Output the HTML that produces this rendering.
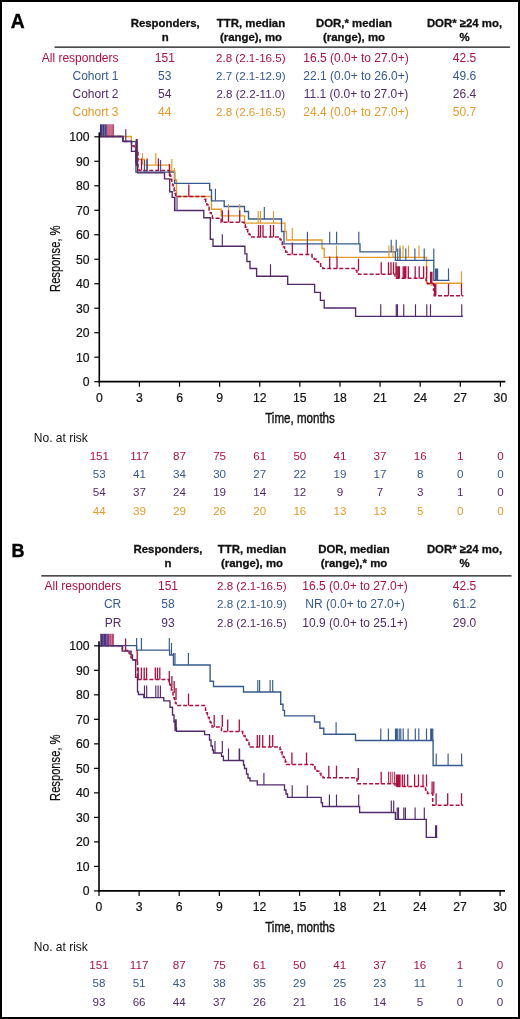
<!DOCTYPE html>
<html><head><meta charset="utf-8"><style>
html,body{margin:0;padding:0;background:#fff;width:520px;height:1019px;overflow:hidden}
svg{display:block;will-change:transform}
</style></head><body>
<svg width="520" height="1019" viewBox="0 0 520 1019" font-family="Liberation Sans, sans-serif">
<rect width="520" height="1019" fill="#fff"/>
<defs><linearGradient id="gA" x1="0" x2="1"><stop offset="0" stop-color="#3e2d78"/><stop offset="0.45" stop-color="#44448a"/><stop offset="0.5" stop-color="#c8587a"/><stop offset="0.88" stop-color="#c8587a"/><stop offset="1" stop-color="#b01040"/></linearGradient></defs>
<rect x="100" y="124.3" width="13.8" height="12.2" fill="url(#gA)"/>
<path d="M102.4,124.6V136M104.6,124.6V136M108.2,124.6V136M110.2,124.6V136M112,124.6V136" fill="none" stroke="rgba(255,255,255,0.35)" stroke-width="0.7"/>
<path d="M99.3,136.5H131.25V141.3H137.5V159.4H144.6V165.1H169.7V171H174.4V180H176.5V196.5H211.5V209.2H221.2V215.9H244.6V223.1H285V231.5H286.5V240H322V248.5H324.2V257.4H426.5V283.2H462.3" fill="none" stroke="#E39A2A" stroke-width="1.35" stroke-linejoin="miter" stroke-linecap="butt"/>
<path d="M99.3,136.5H122.9V141.5H131.5V143.75H132.88V146.0H134.25V148.25H135.62V150.5H137.0H138V168.4H139V170.6H169.4V173.48H170.19V176.36H170.98V179.23H171.77V182.11H172.56V184.99H173.34V187.87H174.13V190.74H174.92V193.62H175.71V196.5H176.5H204.6V199.21H205.71V201.93H206.82V204.64H207.94V207.35H209.05V210.06H210.16V212.77H211.28V215.49H212.39V218.2H213.5H221.2V222.3H244V224.73H245.25V227.17H246.5V229.6H247.75V232.03H249.0V234.47H250.25V236.9H251.5H280V239.43H281.14V241.96H282.29V244.49H283.43V247.01H284.57V249.54H285.71V252.07H286.86V254.6H288.0H312V256.92H314.17V259.23H316.33V261.55H318.5V263.87H320.67V266.18H322.83V268.5H325.0H355.4V270.4H356.93V272.3H358.47V274.2H360.0H395V278.2H426V280.5H427.5V283.8H433.5V290H434.2V295.8H463.4" fill="none" stroke="#AE1040" stroke-width="1.5" stroke-dasharray="4 2" stroke-linejoin="miter" stroke-linecap="butt"/>
<path d="M99.3,136.5H123V141.6H135.9V172.1H174.7V183.3H209.7V190H211.5V200.8H224.2V206.5H244.5V211.5H248.5V219H281.5V231.5H284V243.8H360V251.8H395.4V260.4H433.8V280.4H449.5" fill="none" stroke="#365A8E" stroke-width="1.35" stroke-linejoin="miter" stroke-linecap="butt"/>
<path d="M99.3,136.5H122.9V141.25H131.5V151.35H135.9V162.3H137.5V172.9H164.5V178.9H169.7V191.7H172.2V197.3H174.6V210.5H203.8V217.7H210.3V239.2H213V246.2H244.9V253.8H246.9V261.5H250V268.5H256.6V276.2H287.7V284.4H314.6V292.3H320.4V300.4H324.2V308H355.6V316.3H463" fill="none" stroke="#54296C" stroke-width="1.35" stroke-linejoin="miter" stroke-linecap="butt"/>
<path d="M136.2,139V166M137.2,139V166" fill="none" stroke="#54296C" stroke-width="1.1"/>
<path d="M176,196V210.5M177.2,196V210.5" fill="none" stroke="#7a5a95" stroke-width="1.0"/>
<path d="M142.5,153.1V165.1M155.8,153.1V165.1M171.8,159V171M174.4,168V180M228.5,203.9V215.9M239.7,203.9V215.9M258.2,211.1V223.1M260.5,211.1V223.1M273.5,211.1V223.1M292.3,228V240M336.5,245.39999999999998V257.4M388.9,245.39999999999998V257.4M393,245.39999999999998V257.4M400,245.39999999999998V257.4M403,245.39999999999998V257.4M408.5,245.39999999999998V257.4M419,245.39999999999998V257.4M431.2,274.2V286.2M461.5,271.2V283.2" fill="none" stroke="#E39A2A" stroke-width="1.15"/>
<path d="M141.5,158.6V170.6M147.1,158.6V170.6M158.4,158.6V170.6M169.4,164V176M188.8,184.5V196.5M222.3,210.3V222.3M228.5,210.3V222.3M239.7,210.3V222.3M258.5,224.9V236.9M260.5,224.9V236.9M263,224.9V236.9M270.5,224.9V236.9M273.5,224.9V236.9M292.3,242.6V254.6M307.4,242.6V254.6M329.7,256.5V268.5M337,256.5V268.5M358.5,258.8V270.8M381.2,262.2V274.2M388.5,262.2V274.2M391,262.2V274.2M393.5,262.2V274.2M396,262.2V274.2M396.8,266.2V278.2M398.2,266.2V278.2M399.4,266.2V278.2M403.2,266.2V278.2M404.6,266.2V278.2M405.8,266.2V278.2M408.3,266.2V278.2M415.2,266.2V278.2M419.2,266.2V278.2M423.6,266.2V278.2M426.7,266.2V278.2M430.6,271.8V283.8M431.9,271.8V283.8M434.6,283.8V295.8M435.8,283.8V295.8M448.5,283.8V295.8M461.5,283.8V295.8" fill="none" stroke="#AE1040" stroke-width="1.3"/>
<path d="M144.4,160.1V172.1M147.1,160.1V172.1M160.6,160.1V172.1M215.4,188.8V200.8M264.3,207V219M307.4,231.8V243.8M329.7,231.8V243.8M336.6,231.8V243.8M358.8,231.8V243.8M391.2,239.8V251.8M396.2,239.8V251.8M397.7,248.39999999999998V260.4M400,248.39999999999998V260.4M405.8,248.39999999999998V260.4M414.9,248.39999999999998V260.4M424.2,248.39999999999998V260.4M433.8,248.39999999999998V260.4M435.6,268.4V280.4M436.6,268.4V280.4M437.6,268.4V280.4M448.5,268.4V280.4" fill="none" stroke="#365A8E" stroke-width="1.15"/>
<path d="M125.8,129.25V141.25M222.3,234.2V246.2M270.5,264.2V276.2M380.75,304.3V316.3M396.25,304.3V316.3M397.5,304.3V316.3M403.75,304.3V316.3M415.5,304.3V316.3M426.75,304.3V316.3M430.5,304.3V316.3M461.75,304.3V316.3" fill="none" stroke="#54296C" stroke-width="1.15"/>
<defs><linearGradient id="gB" x1="0" x2="1"><stop offset="0" stop-color="#3e2d78"/><stop offset="0.35" stop-color="#4a3585"/><stop offset="0.6" stop-color="#8a3a76"/><stop offset="0.85" stop-color="#c8587a"/><stop offset="1" stop-color="#b01040"/></linearGradient></defs>
<rect x="100.3" y="633.8" width="13.4" height="12" fill="url(#gB)"/>
<path d="M103.2,634V645.5M106.8,634V645.5M109.6,634V645.5M111.6,634V645.5" fill="none" stroke="rgba(255,255,255,0.35)" stroke-width="0.7"/>
<path d="M99,645.8H122.5V650.5H129V652.88H130.0V655.25H131.0V657.62H132.0V660.0H133.0H137.5V679.4H169V682.02H169.8V684.64H170.6V687.26H171.4V689.88H172.2V692.5H173.0V695.12H173.8V697.74H174.6V700.36H175.4V702.98H176.2V705.6H177.0H204.6V707.98H205.53V710.36H206.47V712.73H207.4V715.11H208.33V717.49H209.27V719.87H210.2V722.24H211.13V724.62H212.07V727.0H213.0H221.5V731.5H242.7V733.7H243.96V735.9H245.21V738.1H246.47V740.3H247.73V742.5H248.99V744.7H250.24V746.9H251.5H280V749.43H281.07V751.96H282.14V754.49H283.21V757.01H284.29V759.54H285.36V762.07H286.43V764.6H287.5H313V766.8H315.0V769.0H317.0V771.2H319.0V773.4H321.0V775.6H323.0V777.8H325.0H357V783.7H395V786.5H425.5V790H427.5V793.6H432.7V805.2H463.3" fill="none" stroke="#AE1040" stroke-width="1.5" stroke-dasharray="4 2" stroke-linejoin="miter" stroke-linecap="butt"/>
<path d="M99,645.6H136.6V650.1H169.6V655H173.5V665H210.1V681.2H213.5V686.5H243.5V692H280.7V704.2H283V710.3H284.5V715.8H314.5V722H319.9V728.2H323.8V734.2H355.5V740.5H433.1V765.5H463.1" fill="none" stroke="#365A8E" stroke-width="1.35" stroke-linejoin="miter" stroke-linecap="butt"/>
<path d="M99,645.8H122.2V651.1H131.1V655H132.5V659.9H135.6V677.4H137.5V691.8H138.5V694.5H143.8V697.6H163.8V700.8H170V707.2H172.5V715H174V722H175.5V728H176.5V731.2H204.6V734.6H209.5V740H211V746H212.5V750H213.5V753H221.5V756.2H223.4V760.5H243.5V765H244.5V768.5H246.5V774H248V778H250V780.8H257.3V784.9H284.5V790H286V794H287.5V797.3H321.2V802.7H322.5V806.5H359.6V812.5H395.4V819.4H426.3V837.3H437.3" fill="none" stroke="#54296C" stroke-width="1.35" stroke-linejoin="miter" stroke-linecap="butt"/>
<path d="M136.6,638.1V650.1M141.4,638.1V650.1M169.3,638.1V650.1M171.5,643V655M173.5,653V665M175,653V665M188.4,653V665M257.8,680V692M259.6,680V692M270.1,680V692M272.7,680V692M336.1,722.2V734.2M380.8,728.5V740.5M388.4,728.5V740.5M395.5,728.5V740.5M396.5,728.5V740.5M397.3,728.5V740.5M399.2,728.5V740.5M400.8,728.5V740.5M403.2,728.5V740.5M408.1,728.5V740.5M415.3,728.5V740.5M418.8,728.5V740.5M426.5,728.5V740.5M430.7,728.5V740.5M431.6,728.5V740.5M432.8,728.5V740.5M436.2,753.5V765.5M448.1,753.5V765.5M461.6,753.5V765.5" fill="none" stroke="#365A8E" stroke-width="1.15"/>
<path d="M125.6,638.5V650.5M137.2,650V662M138.2,667.4V679.4M141.4,667.4V679.4M144.2,667.4V679.4M146.6,667.4V679.4M155.3,667.4V679.4M157.5,667.4V679.4M159.8,667.4V679.4M169.3,671V683M171.9,676V688M174.2,681V693M176,688V700M188.5,693.6V705.6M214.2,715V727M222.3,715V727M227.7,719.5V731.5M239.3,719.5V731.5M257.3,734.9V746.9M259.6,734.9V746.9M262.7,734.9V746.9M269.6,734.9V746.9M272.7,734.9V746.9M291.9,752.6V764.6M306.5,752.6V764.6M328.8,765.8V777.8M336.5,765.8V777.8M358.3,768V780M381.2,771.7V783.7M396.4,774.5V786.5M397.6,774.5V786.5M398.8,774.5V786.5M400,774.5V786.5M402.3,774.5V786.5M404.3,774.5V786.5M407.7,774.5V786.5M414.6,774.5V786.5M418.5,774.5V786.5M423,774.5V786.5M426.5,774.5V786.5M432.1,781.6V793.6M433.8,781.6V793.6M436.1,793.2V805.2M447.7,793.2V805.2M461.5,793.2V805.2" fill="none" stroke="#AE1040" stroke-width="1.3"/>
<path d="M388.5,771.7V783.7M390.3,771.7V783.7M392.2,771.7V783.7M394.4,771.7V783.7" fill="none" stroke="#AE1040" stroke-width="0.9"/>
<path d="M144.5,685.6V697.6M146.7,685.6V697.6M155.8,685.6V697.6M158.1,685.6V697.6M160.4,685.6V697.6M175,719.2V731.2M176.2,719.2V731.2M215,741V753M222.3,741V753M228.5,748.5V760.5M239.2,748.5V760.5M239.6,748.5V760.5M263.9,772.9V784.9M292.2,785.3V797.3M307.3,785.3V797.3M329.4,794.5V806.5M336.5,794.5V806.5M358.7,794.5V806.5M391.3,800.5V812.5M393.7,800.5V812.5M397.2,807.4V819.4M398.5,807.4V819.4M403.8,807.4V819.4M405.4,807.4V819.4M415.1,807.4V819.4M424.3,807.4V819.4M435.6,825.3V837.3M436.6,825.3V837.3" fill="none" stroke="#54296C" stroke-width="1.15"/>
<rect x="1" y="1" width="518" height="1017" fill="none" stroke="#000" stroke-width="2"/><text x="10.8" y="27.5" font-size="19.3" text-anchor="start" fill="#000" font-weight="bold" stroke="#000" stroke-width="0.4">A</text><text x="165.2" y="27.3" font-size="11.4" text-anchor="middle" fill="#111" font-weight="bold" stroke="#111" stroke-width="0.3">Responders,</text><text x="165.2" y="41.3" font-size="11.4" text-anchor="middle" fill="#111" font-weight="bold" stroke="#111" stroke-width="0.3">n</text><text x="251" y="27.3" font-size="11.4" text-anchor="middle" fill="#111" font-weight="bold" stroke="#111" stroke-width="0.3">TTR, median</text><text x="251" y="41.3" font-size="11.4" text-anchor="middle" fill="#111" font-weight="bold" stroke="#111" stroke-width="0.3">(range), mo</text><text x="354" y="27.3" font-size="11.4" text-anchor="middle" fill="#111" font-weight="bold" stroke="#111" stroke-width="0.3">DOR,* median</text><text x="354" y="41.3" font-size="11.4" text-anchor="middle" fill="#111" font-weight="bold" stroke="#111" stroke-width="0.3">(range), mo</text><text x="464.5" y="27.3" font-size="11.4" text-anchor="middle" fill="#111" font-weight="bold" stroke="#111" stroke-width="0.3">DOR* ≥24 mo,</text><text x="464.5" y="41.3" font-size="11.4" text-anchor="middle" fill="#111" font-weight="bold" stroke="#111" stroke-width="0.3">%</text><line x1="54.5" y1="47.2" x2="510" y2="47.2" stroke="#111" stroke-width="1.3"/><text x="118.5" y="61.8" font-size="12" text-anchor="end" fill="#AE1040" font-weight="normal" >All responders</text><text x="164.8" y="61.8" font-size="12" text-anchor="middle" fill="#AE1040" font-weight="normal" >151</text><text x="250.8" y="61.8" font-size="11.6" text-anchor="middle" fill="#AE1040" font-weight="normal" >2.8 (2.1-16.5)</text><text x="356" y="61.8" font-size="12" text-anchor="middle" fill="#AE1040" font-weight="normal" >16.5 (0.0+ to 27.0+)</text><text x="464.5" y="61.8" font-size="12" text-anchor="middle" fill="#AE1040" font-weight="normal" >42.5</text><text x="118.5" y="80.0" font-size="12" text-anchor="end" fill="#365A8E" font-weight="normal" >Cohort 1</text><text x="164.8" y="80.0" font-size="12" text-anchor="middle" fill="#365A8E" font-weight="normal" >53</text><text x="250.8" y="80.0" font-size="11.6" text-anchor="middle" fill="#365A8E" font-weight="normal" >2.7 (2.1-12.9)</text><text x="356" y="80.0" font-size="12" text-anchor="middle" fill="#365A8E" font-weight="normal" >22.1 (0.0+ to 26.0+)</text><text x="464.5" y="80.0" font-size="12" text-anchor="middle" fill="#365A8E" font-weight="normal" >49.6</text><text x="118.5" y="98.19999999999999" font-size="12" text-anchor="end" fill="#54296C" font-weight="normal" >Cohort 2</text><text x="164.8" y="98.19999999999999" font-size="12" text-anchor="middle" fill="#54296C" font-weight="normal" >54</text><text x="250.8" y="98.19999999999999" font-size="11.6" text-anchor="middle" fill="#54296C" font-weight="normal" >2.8 (2.2-11.0)</text><text x="356" y="98.19999999999999" font-size="12" text-anchor="middle" fill="#54296C" font-weight="normal" >11.1 (0.0+ to 27.0+)</text><text x="464.5" y="98.19999999999999" font-size="12" text-anchor="middle" fill="#54296C" font-weight="normal" >26.4</text><text x="118.5" y="116.39999999999999" font-size="12" text-anchor="end" fill="#E39A2A" font-weight="normal" >Cohort 3</text><text x="164.8" y="116.39999999999999" font-size="12" text-anchor="middle" fill="#E39A2A" font-weight="normal" >44</text><text x="250.8" y="116.39999999999999" font-size="11.6" text-anchor="middle" fill="#E39A2A" font-weight="normal" >2.8 (2.6-16.5)</text><text x="356" y="116.39999999999999" font-size="12" text-anchor="middle" fill="#E39A2A" font-weight="normal" >24.4 (0.0+ to 27.0+)</text><text x="464.5" y="116.39999999999999" font-size="12" text-anchor="middle" fill="#E39A2A" font-weight="normal" >50.7</text><line x1="99.3" y1="382.5" x2="99.3" y2="132.3" stroke="#000" stroke-width="1.6"/><line x1="98.5" y1="381.7" x2="505.3" y2="381.7" stroke="#000" stroke-width="1.7"/><line x1="94.3" y1="381.7" x2="99.3" y2="381.7" stroke="#000" stroke-width="1.2"/><text x="89.6" y="386.09999999999997" font-size="12.2" text-anchor="end" fill="#111" font-weight="normal" stroke="#111" stroke-width="0.2">0</text><line x1="94.3" y1="357.21" x2="99.3" y2="357.21" stroke="#000" stroke-width="1.2"/><text x="89.6" y="361.60999999999996" font-size="12.2" text-anchor="end" fill="#111" font-weight="normal" stroke="#111" stroke-width="0.2">10</text><line x1="94.3" y1="332.71999999999997" x2="99.3" y2="332.71999999999997" stroke="#000" stroke-width="1.2"/><text x="89.6" y="337.11999999999995" font-size="12.2" text-anchor="end" fill="#111" font-weight="normal" stroke="#111" stroke-width="0.2">20</text><line x1="94.3" y1="308.23" x2="99.3" y2="308.23" stroke="#000" stroke-width="1.2"/><text x="89.6" y="312.63" font-size="12.2" text-anchor="end" fill="#111" font-weight="normal" stroke="#111" stroke-width="0.2">30</text><line x1="94.3" y1="283.74" x2="99.3" y2="283.74" stroke="#000" stroke-width="1.2"/><text x="89.6" y="288.14" font-size="12.2" text-anchor="end" fill="#111" font-weight="normal" stroke="#111" stroke-width="0.2">40</text><line x1="94.3" y1="259.25" x2="99.3" y2="259.25" stroke="#000" stroke-width="1.2"/><text x="89.6" y="263.65" font-size="12.2" text-anchor="end" fill="#111" font-weight="normal" stroke="#111" stroke-width="0.2">50</text><line x1="94.3" y1="234.76" x2="99.3" y2="234.76" stroke="#000" stroke-width="1.2"/><text x="89.6" y="239.16" font-size="12.2" text-anchor="end" fill="#111" font-weight="normal" stroke="#111" stroke-width="0.2">60</text><line x1="94.3" y1="210.27" x2="99.3" y2="210.27" stroke="#000" stroke-width="1.2"/><text x="89.6" y="214.67000000000002" font-size="12.2" text-anchor="end" fill="#111" font-weight="normal" stroke="#111" stroke-width="0.2">70</text><line x1="94.3" y1="185.78" x2="99.3" y2="185.78" stroke="#000" stroke-width="1.2"/><text x="89.6" y="190.18" font-size="12.2" text-anchor="end" fill="#111" font-weight="normal" stroke="#111" stroke-width="0.2">80</text><line x1="94.3" y1="161.29" x2="99.3" y2="161.29" stroke="#000" stroke-width="1.2"/><text x="89.6" y="165.69" font-size="12.2" text-anchor="end" fill="#111" font-weight="normal" stroke="#111" stroke-width="0.2">90</text><line x1="94.3" y1="136.8" x2="99.3" y2="136.8" stroke="#000" stroke-width="1.2"/><text x="89.6" y="141.20000000000002" font-size="12.2" text-anchor="end" fill="#111" font-weight="normal" stroke="#111" stroke-width="0.2">100</text><line x1="99.3" y1="381.7" x2="99.3" y2="386.7" stroke="#000" stroke-width="1.2"/><text x="99.3" y="401.7" font-size="12.2" text-anchor="middle" fill="#111" font-weight="normal" stroke="#111" stroke-width="0.2">0</text><line x1="139.41" y1="381.7" x2="139.41" y2="386.7" stroke="#000" stroke-width="1.2"/><text x="139.41" y="401.7" font-size="12.2" text-anchor="middle" fill="#111" font-weight="normal" stroke="#111" stroke-width="0.2">3</text><line x1="179.51999999999998" y1="381.7" x2="179.51999999999998" y2="386.7" stroke="#000" stroke-width="1.2"/><text x="179.51999999999998" y="401.7" font-size="12.2" text-anchor="middle" fill="#111" font-weight="normal" stroke="#111" stroke-width="0.2">6</text><line x1="219.63" y1="381.7" x2="219.63" y2="386.7" stroke="#000" stroke-width="1.2"/><text x="219.63" y="401.7" font-size="12.2" text-anchor="middle" fill="#111" font-weight="normal" stroke="#111" stroke-width="0.2">9</text><line x1="259.74" y1="381.7" x2="259.74" y2="386.7" stroke="#000" stroke-width="1.2"/><text x="259.74" y="401.7" font-size="12.2" text-anchor="middle" fill="#111" font-weight="normal" stroke="#111" stroke-width="0.2">12</text><line x1="299.84999999999997" y1="381.7" x2="299.84999999999997" y2="386.7" stroke="#000" stroke-width="1.2"/><text x="299.84999999999997" y="401.7" font-size="12.2" text-anchor="middle" fill="#111" font-weight="normal" stroke="#111" stroke-width="0.2">15</text><line x1="339.96" y1="381.7" x2="339.96" y2="386.7" stroke="#000" stroke-width="1.2"/><text x="339.96" y="401.7" font-size="12.2" text-anchor="middle" fill="#111" font-weight="normal" stroke="#111" stroke-width="0.2">18</text><line x1="380.07" y1="381.7" x2="380.07" y2="386.7" stroke="#000" stroke-width="1.2"/><text x="380.07" y="401.7" font-size="12.2" text-anchor="middle" fill="#111" font-weight="normal" stroke="#111" stroke-width="0.2">21</text><line x1="420.18" y1="381.7" x2="420.18" y2="386.7" stroke="#000" stroke-width="1.2"/><text x="420.18" y="401.7" font-size="12.2" text-anchor="middle" fill="#111" font-weight="normal" stroke="#111" stroke-width="0.2">24</text><line x1="460.28999999999996" y1="381.7" x2="460.28999999999996" y2="386.7" stroke="#000" stroke-width="1.2"/><text x="460.28999999999996" y="401.7" font-size="12.2" text-anchor="middle" fill="#111" font-weight="normal" stroke="#111" stroke-width="0.2">27</text><line x1="500.4" y1="381.7" x2="500.4" y2="386.7" stroke="#000" stroke-width="1.2"/><text x="500.4" y="401.7" font-size="12.2" text-anchor="middle" fill="#111" font-weight="normal" stroke="#111" stroke-width="0.2">30</text><text x="0" y="0" font-size="14.3" text-anchor="middle" fill="#111" font-weight="normal" stroke="#111" stroke-width="0.4" transform="translate(300 422.59999999999997) scale(0.81 1)">Time, months</text><text x="0" y="0" font-size="15" text-anchor="middle" fill="#111" font-weight="normal" stroke="#111" stroke-width="0.25" transform="translate(60.4 258.7) rotate(-90) scale(0.745 1)">Response, %</text><text x="33.8" y="441.6" font-size="12" text-anchor="start" fill="#111" font-weight="normal" >No. at risk</text><text x="99.3" y="459.9" font-size="11.6" text-anchor="middle" fill="#AE1040" font-weight="normal" >151</text><text x="139.41" y="459.9" font-size="11.6" text-anchor="middle" fill="#AE1040" font-weight="normal" >117</text><text x="179.51999999999998" y="459.9" font-size="11.6" text-anchor="middle" fill="#AE1040" font-weight="normal" >87</text><text x="219.63" y="459.9" font-size="11.6" text-anchor="middle" fill="#AE1040" font-weight="normal" >75</text><text x="259.74" y="459.9" font-size="11.6" text-anchor="middle" fill="#AE1040" font-weight="normal" >61</text><text x="299.84999999999997" y="459.9" font-size="11.6" text-anchor="middle" fill="#AE1040" font-weight="normal" >50</text><text x="339.96" y="459.9" font-size="11.6" text-anchor="middle" fill="#AE1040" font-weight="normal" >41</text><text x="380.07" y="459.9" font-size="11.6" text-anchor="middle" fill="#AE1040" font-weight="normal" >37</text><text x="420.18" y="459.9" font-size="11.6" text-anchor="middle" fill="#AE1040" font-weight="normal" >16</text><text x="460.28999999999996" y="459.9" font-size="11.6" text-anchor="middle" fill="#AE1040" font-weight="normal" >1</text><text x="500.4" y="459.9" font-size="11.6" text-anchor="middle" fill="#AE1040" font-weight="normal" >0</text><text x="99.3" y="478.09999999999997" font-size="11.6" text-anchor="middle" fill="#365A8E" font-weight="normal" >53</text><text x="139.41" y="478.09999999999997" font-size="11.6" text-anchor="middle" fill="#365A8E" font-weight="normal" >41</text><text x="179.51999999999998" y="478.09999999999997" font-size="11.6" text-anchor="middle" fill="#365A8E" font-weight="normal" >34</text><text x="219.63" y="478.09999999999997" font-size="11.6" text-anchor="middle" fill="#365A8E" font-weight="normal" >30</text><text x="259.74" y="478.09999999999997" font-size="11.6" text-anchor="middle" fill="#365A8E" font-weight="normal" >27</text><text x="299.84999999999997" y="478.09999999999997" font-size="11.6" text-anchor="middle" fill="#365A8E" font-weight="normal" >22</text><text x="339.96" y="478.09999999999997" font-size="11.6" text-anchor="middle" fill="#365A8E" font-weight="normal" >19</text><text x="380.07" y="478.09999999999997" font-size="11.6" text-anchor="middle" fill="#365A8E" font-weight="normal" >17</text><text x="420.18" y="478.09999999999997" font-size="11.6" text-anchor="middle" fill="#365A8E" font-weight="normal" >8</text><text x="460.28999999999996" y="478.09999999999997" font-size="11.6" text-anchor="middle" fill="#365A8E" font-weight="normal" >0</text><text x="500.4" y="478.09999999999997" font-size="11.6" text-anchor="middle" fill="#365A8E" font-weight="normal" >0</text><text x="99.3" y="496.29999999999995" font-size="11.6" text-anchor="middle" fill="#54296C" font-weight="normal" >54</text><text x="139.41" y="496.29999999999995" font-size="11.6" text-anchor="middle" fill="#54296C" font-weight="normal" >37</text><text x="179.51999999999998" y="496.29999999999995" font-size="11.6" text-anchor="middle" fill="#54296C" font-weight="normal" >24</text><text x="219.63" y="496.29999999999995" font-size="11.6" text-anchor="middle" fill="#54296C" font-weight="normal" >19</text><text x="259.74" y="496.29999999999995" font-size="11.6" text-anchor="middle" fill="#54296C" font-weight="normal" >14</text><text x="299.84999999999997" y="496.29999999999995" font-size="11.6" text-anchor="middle" fill="#54296C" font-weight="normal" >12</text><text x="339.96" y="496.29999999999995" font-size="11.6" text-anchor="middle" fill="#54296C" font-weight="normal" >9</text><text x="380.07" y="496.29999999999995" font-size="11.6" text-anchor="middle" fill="#54296C" font-weight="normal" >7</text><text x="420.18" y="496.29999999999995" font-size="11.6" text-anchor="middle" fill="#54296C" font-weight="normal" >3</text><text x="460.28999999999996" y="496.29999999999995" font-size="11.6" text-anchor="middle" fill="#54296C" font-weight="normal" >1</text><text x="500.4" y="496.29999999999995" font-size="11.6" text-anchor="middle" fill="#54296C" font-weight="normal" >0</text><text x="99.3" y="514.5" font-size="11.6" text-anchor="middle" fill="#E39A2A" font-weight="normal" >44</text><text x="139.41" y="514.5" font-size="11.6" text-anchor="middle" fill="#E39A2A" font-weight="normal" >39</text><text x="179.51999999999998" y="514.5" font-size="11.6" text-anchor="middle" fill="#E39A2A" font-weight="normal" >29</text><text x="219.63" y="514.5" font-size="11.6" text-anchor="middle" fill="#E39A2A" font-weight="normal" >26</text><text x="259.74" y="514.5" font-size="11.6" text-anchor="middle" fill="#E39A2A" font-weight="normal" >20</text><text x="299.84999999999997" y="514.5" font-size="11.6" text-anchor="middle" fill="#E39A2A" font-weight="normal" >16</text><text x="339.96" y="514.5" font-size="11.6" text-anchor="middle" fill="#E39A2A" font-weight="normal" >13</text><text x="380.07" y="514.5" font-size="11.6" text-anchor="middle" fill="#E39A2A" font-weight="normal" >13</text><text x="420.18" y="514.5" font-size="11.6" text-anchor="middle" fill="#E39A2A" font-weight="normal" >5</text><text x="460.28999999999996" y="514.5" font-size="11.6" text-anchor="middle" fill="#E39A2A" font-weight="normal" >0</text><text x="500.4" y="514.5" font-size="11.6" text-anchor="middle" fill="#E39A2A" font-weight="normal" >0</text><text x="11.6" y="557.3" font-size="18" text-anchor="start" fill="#000" font-weight="bold" stroke="#000" stroke-width="0.4">B</text><text x="168" y="553" font-size="11.4" text-anchor="middle" fill="#111" font-weight="bold" stroke="#111" stroke-width="0.3">Responders,</text><text x="168" y="567" font-size="11.4" text-anchor="middle" fill="#111" font-weight="bold" stroke="#111" stroke-width="0.3">n</text><text x="252" y="553" font-size="11.4" text-anchor="middle" fill="#111" font-weight="bold" stroke="#111" stroke-width="0.3">TTR, median</text><text x="252" y="567" font-size="11.4" text-anchor="middle" fill="#111" font-weight="bold" stroke="#111" stroke-width="0.3">(range), mo</text><text x="354" y="553" font-size="11.4" text-anchor="middle" fill="#111" font-weight="bold" stroke="#111" stroke-width="0.3">DOR, median</text><text x="354" y="567" font-size="11.4" text-anchor="middle" fill="#111" font-weight="bold" stroke="#111" stroke-width="0.3">(range),* mo</text><text x="464.5" y="553" font-size="11.4" text-anchor="middle" fill="#111" font-weight="bold" stroke="#111" stroke-width="0.3">DOR* ≥24 mo,</text><text x="464.5" y="567" font-size="11.4" text-anchor="middle" fill="#111" font-weight="bold" stroke="#111" stroke-width="0.3">%</text><line x1="41.3" y1="575.9" x2="511.5" y2="575.9" stroke="#111" stroke-width="1.3"/><text x="121.3" y="589.5" font-size="12" text-anchor="end" fill="#AE1040" font-weight="normal" >All responders</text><text x="168" y="589.5" font-size="12" text-anchor="middle" fill="#AE1040" font-weight="normal" >151</text><text x="251.8" y="589.5" font-size="11.6" text-anchor="middle" fill="#AE1040" font-weight="normal" >2.8 (2.1-16.5)</text><text x="355" y="589.5" font-size="12" text-anchor="middle" fill="#AE1040" font-weight="normal" >16.5 (0.0+ to 27.0+)</text><text x="464.5" y="589.5" font-size="12" text-anchor="middle" fill="#AE1040" font-weight="normal" >42.5</text><text x="121.3" y="608.1" font-size="12" text-anchor="end" fill="#365A8E" font-weight="normal" >CR</text><text x="168" y="608.1" font-size="12" text-anchor="middle" fill="#365A8E" font-weight="normal" >58</text><text x="251.8" y="608.1" font-size="11.6" text-anchor="middle" fill="#365A8E" font-weight="normal" >2.8 (2.1-10.9)</text><text x="355" y="608.1" font-size="12" text-anchor="middle" fill="#365A8E" font-weight="normal" >NR (0.0+ to 27.0+)</text><text x="464.5" y="608.1" font-size="12" text-anchor="middle" fill="#365A8E" font-weight="normal" >61.2</text><text x="121.3" y="626.7" font-size="12" text-anchor="end" fill="#54296C" font-weight="normal" >PR</text><text x="168" y="626.7" font-size="12" text-anchor="middle" fill="#54296C" font-weight="normal" >93</text><text x="251.8" y="626.7" font-size="11.6" text-anchor="middle" fill="#54296C" font-weight="normal" >2.8 (2.1-16.5)</text><text x="355" y="626.7" font-size="12" text-anchor="middle" fill="#54296C" font-weight="normal" >10.9 (0.0+ to 25.1+)</text><text x="464.5" y="626.7" font-size="12" text-anchor="middle" fill="#54296C" font-weight="normal" >29.0</text><line x1="99.0" y1="891.6999999999999" x2="99.0" y2="641.3" stroke="#000" stroke-width="1.6"/><line x1="98.2" y1="890.9" x2="505.0" y2="890.9" stroke="#000" stroke-width="1.7"/><line x1="94.0" y1="890.9" x2="99.0" y2="890.9" stroke="#000" stroke-width="1.2"/><text x="89.6" y="895.3" font-size="12.2" text-anchor="end" fill="#111" font-weight="normal" stroke="#111" stroke-width="0.2">0</text><line x1="94.0" y1="866.39" x2="99.0" y2="866.39" stroke="#000" stroke-width="1.2"/><text x="89.6" y="870.79" font-size="12.2" text-anchor="end" fill="#111" font-weight="normal" stroke="#111" stroke-width="0.2">10</text><line x1="94.0" y1="841.88" x2="99.0" y2="841.88" stroke="#000" stroke-width="1.2"/><text x="89.6" y="846.28" font-size="12.2" text-anchor="end" fill="#111" font-weight="normal" stroke="#111" stroke-width="0.2">20</text><line x1="94.0" y1="817.37" x2="99.0" y2="817.37" stroke="#000" stroke-width="1.2"/><text x="89.6" y="821.77" font-size="12.2" text-anchor="end" fill="#111" font-weight="normal" stroke="#111" stroke-width="0.2">30</text><line x1="94.0" y1="792.86" x2="99.0" y2="792.86" stroke="#000" stroke-width="1.2"/><text x="89.6" y="797.26" font-size="12.2" text-anchor="end" fill="#111" font-weight="normal" stroke="#111" stroke-width="0.2">40</text><line x1="94.0" y1="768.35" x2="99.0" y2="768.35" stroke="#000" stroke-width="1.2"/><text x="89.6" y="772.75" font-size="12.2" text-anchor="end" fill="#111" font-weight="normal" stroke="#111" stroke-width="0.2">50</text><line x1="94.0" y1="743.8399999999999" x2="99.0" y2="743.8399999999999" stroke="#000" stroke-width="1.2"/><text x="89.6" y="748.2399999999999" font-size="12.2" text-anchor="end" fill="#111" font-weight="normal" stroke="#111" stroke-width="0.2">60</text><line x1="94.0" y1="719.3299999999999" x2="99.0" y2="719.3299999999999" stroke="#000" stroke-width="1.2"/><text x="89.6" y="723.7299999999999" font-size="12.2" text-anchor="end" fill="#111" font-weight="normal" stroke="#111" stroke-width="0.2">70</text><line x1="94.0" y1="694.8199999999999" x2="99.0" y2="694.8199999999999" stroke="#000" stroke-width="1.2"/><text x="89.6" y="699.2199999999999" font-size="12.2" text-anchor="end" fill="#111" font-weight="normal" stroke="#111" stroke-width="0.2">80</text><line x1="94.0" y1="670.31" x2="99.0" y2="670.31" stroke="#000" stroke-width="1.2"/><text x="89.6" y="674.7099999999999" font-size="12.2" text-anchor="end" fill="#111" font-weight="normal" stroke="#111" stroke-width="0.2">90</text><line x1="94.0" y1="645.8" x2="99.0" y2="645.8" stroke="#000" stroke-width="1.2"/><text x="89.6" y="650.1999999999999" font-size="12.2" text-anchor="end" fill="#111" font-weight="normal" stroke="#111" stroke-width="0.2">100</text><line x1="99.0" y1="890.9" x2="99.0" y2="895.9" stroke="#000" stroke-width="1.2"/><text x="99.0" y="910.9" font-size="12.2" text-anchor="middle" fill="#111" font-weight="normal" stroke="#111" stroke-width="0.2">0</text><line x1="139.11" y1="890.9" x2="139.11" y2="895.9" stroke="#000" stroke-width="1.2"/><text x="139.11" y="910.9" font-size="12.2" text-anchor="middle" fill="#111" font-weight="normal" stroke="#111" stroke-width="0.2">3</text><line x1="179.22" y1="890.9" x2="179.22" y2="895.9" stroke="#000" stroke-width="1.2"/><text x="179.22" y="910.9" font-size="12.2" text-anchor="middle" fill="#111" font-weight="normal" stroke="#111" stroke-width="0.2">6</text><line x1="219.32999999999998" y1="890.9" x2="219.32999999999998" y2="895.9" stroke="#000" stroke-width="1.2"/><text x="219.32999999999998" y="910.9" font-size="12.2" text-anchor="middle" fill="#111" font-weight="normal" stroke="#111" stroke-width="0.2">9</text><line x1="259.44" y1="890.9" x2="259.44" y2="895.9" stroke="#000" stroke-width="1.2"/><text x="259.44" y="910.9" font-size="12.2" text-anchor="middle" fill="#111" font-weight="normal" stroke="#111" stroke-width="0.2">12</text><line x1="299.54999999999995" y1="890.9" x2="299.54999999999995" y2="895.9" stroke="#000" stroke-width="1.2"/><text x="299.54999999999995" y="910.9" font-size="12.2" text-anchor="middle" fill="#111" font-weight="normal" stroke="#111" stroke-width="0.2">15</text><line x1="339.65999999999997" y1="890.9" x2="339.65999999999997" y2="895.9" stroke="#000" stroke-width="1.2"/><text x="339.65999999999997" y="910.9" font-size="12.2" text-anchor="middle" fill="#111" font-weight="normal" stroke="#111" stroke-width="0.2">18</text><line x1="379.77" y1="890.9" x2="379.77" y2="895.9" stroke="#000" stroke-width="1.2"/><text x="379.77" y="910.9" font-size="12.2" text-anchor="middle" fill="#111" font-weight="normal" stroke="#111" stroke-width="0.2">21</text><line x1="419.88" y1="890.9" x2="419.88" y2="895.9" stroke="#000" stroke-width="1.2"/><text x="419.88" y="910.9" font-size="12.2" text-anchor="middle" fill="#111" font-weight="normal" stroke="#111" stroke-width="0.2">24</text><line x1="459.98999999999995" y1="890.9" x2="459.98999999999995" y2="895.9" stroke="#000" stroke-width="1.2"/><text x="459.98999999999995" y="910.9" font-size="12.2" text-anchor="middle" fill="#111" font-weight="normal" stroke="#111" stroke-width="0.2">27</text><line x1="500.09999999999997" y1="890.9" x2="500.09999999999997" y2="895.9" stroke="#000" stroke-width="1.2"/><text x="500.09999999999997" y="910.9" font-size="12.2" text-anchor="middle" fill="#111" font-weight="normal" stroke="#111" stroke-width="0.2">30</text><text x="0" y="0" font-size="14.3" text-anchor="middle" fill="#111" font-weight="normal" stroke="#111" stroke-width="0.4" transform="translate(300 931.8) scale(0.81 1)">Time, months</text><text x="0" y="0" font-size="15" text-anchor="middle" fill="#111" font-weight="normal" stroke="#111" stroke-width="0.25" transform="translate(60.4 767.7) rotate(-90) scale(0.745 1)">Response, %</text><text x="33.8" y="950.8" font-size="12" text-anchor="start" fill="#111" font-weight="normal" >No. at risk</text><text x="99.0" y="968.9" font-size="11.6" text-anchor="middle" fill="#AE1040" font-weight="normal" >151</text><text x="139.11" y="968.9" font-size="11.6" text-anchor="middle" fill="#AE1040" font-weight="normal" >117</text><text x="179.22" y="968.9" font-size="11.6" text-anchor="middle" fill="#AE1040" font-weight="normal" >87</text><text x="219.32999999999998" y="968.9" font-size="11.6" text-anchor="middle" fill="#AE1040" font-weight="normal" >75</text><text x="259.44" y="968.9" font-size="11.6" text-anchor="middle" fill="#AE1040" font-weight="normal" >61</text><text x="299.54999999999995" y="968.9" font-size="11.6" text-anchor="middle" fill="#AE1040" font-weight="normal" >50</text><text x="339.65999999999997" y="968.9" font-size="11.6" text-anchor="middle" fill="#AE1040" font-weight="normal" >41</text><text x="379.77" y="968.9" font-size="11.6" text-anchor="middle" fill="#AE1040" font-weight="normal" >37</text><text x="419.88" y="968.9" font-size="11.6" text-anchor="middle" fill="#AE1040" font-weight="normal" >16</text><text x="459.98999999999995" y="968.9" font-size="11.6" text-anchor="middle" fill="#AE1040" font-weight="normal" >1</text><text x="500.09999999999997" y="968.9" font-size="11.6" text-anchor="middle" fill="#AE1040" font-weight="normal" >0</text><text x="99.0" y="987.4499999999999" font-size="11.6" text-anchor="middle" fill="#365A8E" font-weight="normal" >58</text><text x="139.11" y="987.4499999999999" font-size="11.6" text-anchor="middle" fill="#365A8E" font-weight="normal" >51</text><text x="179.22" y="987.4499999999999" font-size="11.6" text-anchor="middle" fill="#365A8E" font-weight="normal" >43</text><text x="219.32999999999998" y="987.4499999999999" font-size="11.6" text-anchor="middle" fill="#365A8E" font-weight="normal" >38</text><text x="259.44" y="987.4499999999999" font-size="11.6" text-anchor="middle" fill="#365A8E" font-weight="normal" >35</text><text x="299.54999999999995" y="987.4499999999999" font-size="11.6" text-anchor="middle" fill="#365A8E" font-weight="normal" >29</text><text x="339.65999999999997" y="987.4499999999999" font-size="11.6" text-anchor="middle" fill="#365A8E" font-weight="normal" >25</text><text x="379.77" y="987.4499999999999" font-size="11.6" text-anchor="middle" fill="#365A8E" font-weight="normal" >23</text><text x="419.88" y="987.4499999999999" font-size="11.6" text-anchor="middle" fill="#365A8E" font-weight="normal" >11</text><text x="459.98999999999995" y="987.4499999999999" font-size="11.6" text-anchor="middle" fill="#365A8E" font-weight="normal" >1</text><text x="500.09999999999997" y="987.4499999999999" font-size="11.6" text-anchor="middle" fill="#365A8E" font-weight="normal" >0</text><text x="99.0" y="1006.0" font-size="11.6" text-anchor="middle" fill="#54296C" font-weight="normal" >93</text><text x="139.11" y="1006.0" font-size="11.6" text-anchor="middle" fill="#54296C" font-weight="normal" >66</text><text x="179.22" y="1006.0" font-size="11.6" text-anchor="middle" fill="#54296C" font-weight="normal" >44</text><text x="219.32999999999998" y="1006.0" font-size="11.6" text-anchor="middle" fill="#54296C" font-weight="normal" >37</text><text x="259.44" y="1006.0" font-size="11.6" text-anchor="middle" fill="#54296C" font-weight="normal" >26</text><text x="299.54999999999995" y="1006.0" font-size="11.6" text-anchor="middle" fill="#54296C" font-weight="normal" >21</text><text x="339.65999999999997" y="1006.0" font-size="11.6" text-anchor="middle" fill="#54296C" font-weight="normal" >16</text><text x="379.77" y="1006.0" font-size="11.6" text-anchor="middle" fill="#54296C" font-weight="normal" >14</text><text x="419.88" y="1006.0" font-size="11.6" text-anchor="middle" fill="#54296C" font-weight="normal" >5</text><text x="459.98999999999995" y="1006.0" font-size="11.6" text-anchor="middle" fill="#54296C" font-weight="normal" >0</text><text x="500.09999999999997" y="1006.0" font-size="11.6" text-anchor="middle" fill="#54296C" font-weight="normal" >0</text>
</svg></body></html>
